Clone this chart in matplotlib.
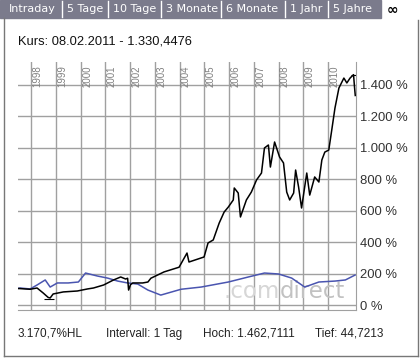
import numpy as np
import matplotlib
matplotlib.use("Agg")
import matplotlib.pyplot as plt
from matplotlib.patches import Rectangle
from matplotlib.lines import Line2D
import matplotlib.transforms as mtransforms

# stock (black), in % of start value
stock_t = [1997.47, 1997.76, 1997.96, 1998.24, 1998.49, 1998.69, 1998.77, 1998.89,
           1999.30, 1999.87, 2000.28, 2000.52, 2000.93, 2001.33, 2001.62, 2001.82,
           2001.90, 2001.94, 2002.02, 2002.11, 2002.51, 2002.72, 2002.84, 2003.37,
           2003.98, 2004.30, 2004.38, 2004.99, 2005.15, 2005.36, 2005.60, 2005.80,
           2005.97, 2006.17, 2006.21, 2006.37, 2006.46, 2006.70, 2006.90, 2007.11,
           2007.31, 2007.43, 2007.59, 2007.67, 2007.84, 2008.04, 2008.20, 2008.33,
           2008.45, 2008.61, 2008.69, 2008.81, 2008.93, 2009.14, 2009.26, 2009.46,
           2009.63, 2009.75, 2009.87, 2010.03, 2010.15, 2010.28, 2010.44, 2010.64,
           2010.76, 2010.89, 2011.03, 2011.07, 2011.10]
stock_v = [105, 102, 100, 108, 76, 48, 44.7, 70,
           83, 89, 102, 108, 127, 159, 178, 165,
           170, 95, 130, 140, 140, 146, 170, 210,
           240, 330, 273, 305, 394, 413, 520, 590,
           622, 667, 743, 711, 559, 667, 717, 794,
           838, 997, 1016, 876, 1035, 940, 902, 717,
           667, 711, 857, 749, 616, 838, 698, 813,
           781, 921, 971, 984, 1111, 1251, 1378, 1441,
           1410, 1441, 1462.7, 1384, 1330.4]

# benchmark (blue)
bench_t = [1997.47, 1997.55, 1997.96, 1998.24, 1998.57, 1998.77, 1999.06, 1999.50,
           1999.91, 2000.20, 2000.68, 2001.09, 2001.50, 2001.90, 2002.31, 2002.72,
           2003.24, 2004.06, 2004.87, 2005.97, 2006.78, 2007.43, 2008.00, 2008.53,
           2009.06, 2009.63, 2010.28, 2010.70, 2011.09]
bench_v = [105, 108, 102, 127, 159, 114, 140, 140,
           146, 203, 184, 171, 152, 140, 133, 95,
           63, 100, 114, 146, 178, 203, 197, 171,
           114, 146, 152, 159, 190]

years = list(range(1998, 2011))
yticks = [0, 200, 400, 600, 800, 1000, 1200, 1400]
ytick_labels = ["0 %", "200 %", "400 %", "600 %", "800 %", "1.000 %", "1.200 %", "1.400 %"]

tabs = ["Intraday", "5 Tage", "10 Tage", "3 Monate", "6 Monate", "1 Jahr", "5 Jahre"]
tab_edges = [0, 62, 108, 161, 221, 285, 328, 381]

header = "Kurs: 08.02.2011 - 1.330,4476"
footer = ["3.170,7%HL", "Intervall: 1 Tag", "Hoch: 1.462,7111", "Tief: 44,7213"]
footer_x = [18, 106, 203, 315]

W, H = 420, 359
fig = plt.figure(figsize=(W / 100, H / 100), dpi=100)
fig.patch.set_facecolor("white")

def fx(px):
    return px / W

def fy(py):
    return 1 - py / H

# tab bar
fig.patches.append(Rectangle((0, fy(18)), fx(tab_edges[-1]), 18 / H,
                             transform=fig.transFigure, color="#7b7b8c", zorder=0))
for i, lab in enumerate(tabs):
    if i > 0:
        fig.add_artist(Line2D([fx(tab_edges[i]), fx(tab_edges[i])], [fy(1), fy(17)],
                              color="white", lw=1))
    fig.text(fx(tab_edges[i] + (5 if i else 9)), fy(9.5), lab, color="white",
             fontsize=8, family="DejaVu Sans", va="center", ha="left")
fig.text(fx(392), fy(10), "\u221e", fontsize=10, fontweight="bold", color="black",
         va="center", ha="center", family="DejaVu Sans")

# frame
fc = "#777777"
fig.add_artist(Line2D([fx(3.5), fx(3.5)], [fy(18), fy(356)], color=fc, lw=1))
fig.add_artist(Line2D([fx(3.5), fx(418)], [fy(356), fy(356)], color=fc, lw=1))
fig.add_artist(Line2D([fx(418), fx(418)], [fy(20), fy(356)], color=fc, lw=1))

fig.text(fx(18), fy(41), header, fontsize=9.3, family="Liberation Sans",
         color="#111111", va="center", ha="left")
for x, s in zip(footer_x, footer):
    fig.text(fx(x), fy(334), s, fontsize=8.5, family="Liberation Sans",
             color="#222222", va="center", ha="left")

# main chart
ax = fig.add_axes([fx(18), fy(310), fx(356) - fx(18), (310 - 62) / H])
ax.set_xlim(1997.47, 2011.13)
ax.set_ylim(-31.7, 1543)
ax.set_facecolor("white")

gc = "#a0a0a0"
for yv in yticks:
    ax.axhline(yv, color=gc, lw=1, zorder=1)
for yr in years:
    ax.axvline(yr, color=gc, lw=1, zorder=1)
for s in ["top", "left"]:
    ax.spines[s].set_visible(False)
ax.spines["bottom"].set_color(gc)
ax.spines["right"].set_color(gc)

trans = mtransforms.blended_transform_factory(ax.transData, ax.transAxes)
for yr in years:
    ax.text(yr + 0.06, (310 - 87) / 248, str(yr), rotation=90, fontsize=7,
            family="Liberation Sans", color="#808080", transform=trans,
            ha="left", va="bottom")

# watermark
wm1 = ax.text((223 - 18) / 338, (310 - 298) / 248, ".com", transform=ax.transAxes,
              fontsize=16.5, color="#d6d6d6", family="DejaVu Sans", va="baseline",
              ha="left", zorder=2)
fig.canvas.draw()
bb = wm1.get_window_extent()
ax.annotate("direct", xy=(1, 0), xycoords=wm1, va="bottom", ha="left",
            fontsize=16.5, color="#c2c2c2", family="DejaVu Sans", zorder=2)

ax.plot(bench_t, bench_v, color="#4a55b0", lw=1.1, zorder=3)
ax.plot(stock_t, stock_v, color="black", lw=1.1, zorder=4)

# high / low markers
i_lo = int(np.argmin(stock_v))
i_hi = int(np.argmax(stock_v))
ax.hlines(stock_v[i_lo] - 8, stock_t[i_lo] - 0.25, stock_t[i_lo] + 0.15, color="black", lw=0.8, zorder=4)
ax.hlines(stock_v[i_hi], stock_t[i_hi] - 0.1, 2011.13, color="black", lw=0.8, zorder=4)

ax.set_xticks([])
ax.yaxis.tick_right()
ax.set_yticks(yticks)
ax.set_yticklabels(ytick_labels, fontsize=9.4, family="Liberation Sans", color="#333333")
ax.tick_params(axis="y", length=0, pad=3)

fig.savefig("out.png", dpi=100)
